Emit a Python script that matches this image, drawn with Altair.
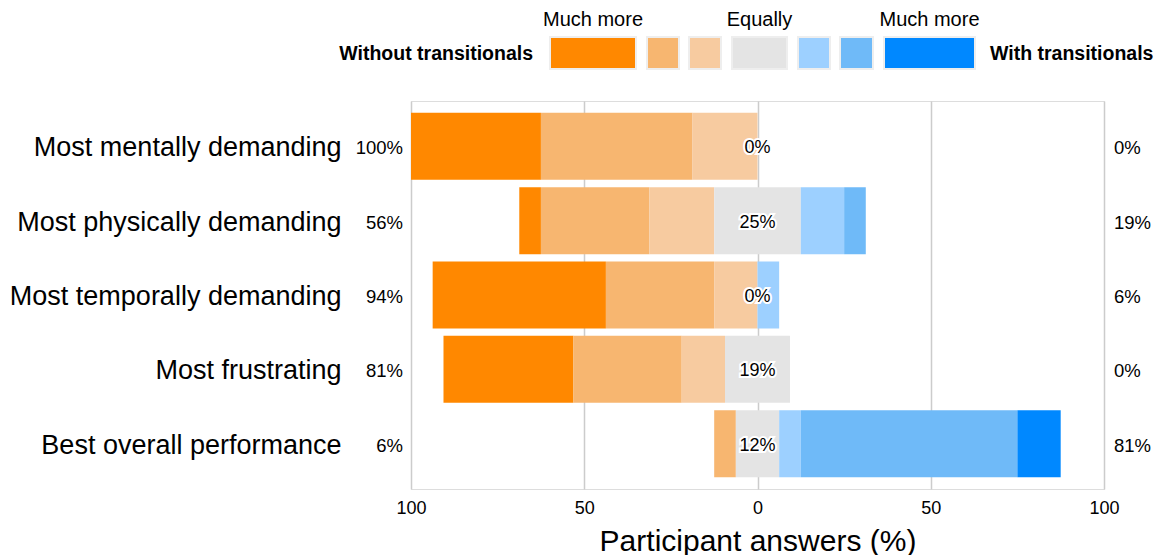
import altair as alt
import pandas as pd

# ---- data -----------------------------------------------------------------
categories = [
    "Most mentally demanding",
    "Most physically demanding",
    "Most temporally demanding",
    "Most frustrating",
    "Best overall performance",
]
levels = [
    "Much more without",
    "More without",
    "Somewhat more without",
    "Equally",
    "Somewhat more with",
    "More with",
    "Much more with",
]
colors = ["#FF8800", "#F7B670", "#F7CBA0", "#E4E4E4", "#9DD0FF", "#6FBAF8", "#0088FF"]

# percentage of participants per answer level (7-point scale)
mentally = [37.5, 43.75, 18.75, 0, 0, 0, 0]
physically = [6.25, 31.25, 18.75, 25, 12.5, 6.25, 0]
temporally = [50, 31.25, 12.5, 0, 6.25, 0, 0]
frustrating = [37.5, 31.25, 12.5, 18.75, 0, 0, 0]
best = [0, 6.25, 0, 12.5, 6.25, 62.5, 12.5]
series = [mentally, physically, temporally, frustrating, best]

tick_values = [-100, -50, 0, 50, 100]
legend_top_labels = ["Much more", "", "", "Equally", "", "", "Much more"]
legend_left_text = "Without transitionals"
legend_right_text = "With transitionals"
x_title = "Participant answers (%)"

# ---- tables built from the arrays ----------------------------------------
rows, summary = [], []
for cat, vals in zip(categories, series):
    left = sum(vals[:3])
    neutral = vals[3]
    right = sum(vals[4:])
    pos = -left - neutral / 2
    for lev, v in zip(levels, vals):
        rows.append({"category": cat, "level": lev, "start": pos, "end": pos + v})
        pos += v
    summary.append({
        "category": cat,
        "left": f"{round(left)}%",
        "neutral": f"{round(neutral)}%",
        "right": f"{round(right)}%",
        "zero": 0,
    })
df = pd.DataFrame(rows)
sdf = pd.DataFrame(summary)

# legend swatch geometry (pixels relative to plot area)
sw_widths = [86, 32, 32, 55, 32, 33, 91]
sw_gaps = [11, 10, 11, 11, 10, 11]
leg_rows, x = [], 139
for i, (lev, w) in enumerate(zip(levels, sw_widths)):
    leg_rows.append({"level": lev, "x0": x, "x1": x + w, "xc": x + w / 2,
                     "top": legend_top_labels[i]})
    if i < len(sw_gaps):
        x += w + sw_gaps[i]
ldf = pd.DataFrame(leg_rows)

FONT = "Liberation Sans"
INK = "#000000"
color_scale = alt.Scale(domain=levels, range=colors)
y_enc = alt.Y(
    "category:N",
    sort=categories,
    scale=alt.Scale(paddingInner=0.1, paddingOuter=0.16),
    axis=alt.Axis(
        title=None, domain=False, ticks=False, labelFontSize=27,
        labelPadding=70, labelFont=FONT, labelColor=INK, grid=False,
        labelLimit=500, labelBaseline="middle", labelOffset=2,
    ),
)
x_scale = alt.Scale(domain=[-100, 100], nice=False, zero=False)
x_axis = alt.Axis(
    values=tick_values, labelExpr="abs(datum.value)", title=x_title,
    titleFontSize=30, titleFontWeight="normal", titleFont=FONT,
    titleColor=INK, titlePadding=9,
    labelFontSize=18, labelFont=FONT, labelColor=INK, labelPadding=10,
    labelFlush=False,
    ticks=False, domain=False, grid=True, gridColor="#cccccc", gridWidth=1.5,
)

bars = alt.Chart(df).mark_bar(size=67).encode(
    x=alt.X("start:Q", scale=x_scale, axis=x_axis),
    x2="end:Q",
    y=y_enc,
    color=alt.Color("level:N", scale=color_scale, legend=None),
)

center_halo = alt.Chart(sdf).mark_text(
    fontSize=18, font=FONT, stroke="white", strokeWidth=4, fill="white",
    align="center", baseline="middle", dy=2,
).encode(x=alt.X("zero:Q", scale=x_scale), y=alt.Y("category:N", sort=categories), text="neutral:N")
center_text = alt.Chart(sdf).mark_text(
    fontSize=18, font=FONT, color=INK, align="center", baseline="middle", dy=2,
).encode(x=alt.X("zero:Q", scale=x_scale), y=alt.Y("category:N", sort=categories), text="neutral:N")

left_text = alt.Chart(sdf).mark_text(
    fontSize=18.5, font=FONT, color=INK, align="right", baseline="middle", dy=2,
).encode(x=alt.value(-8), y=alt.Y("category:N", sort=categories), text="left:N")
right_text = alt.Chart(sdf).mark_text(
    fontSize=18.5, font=FONT, color=INK, align="left", baseline="middle", dy=2,
).encode(x=alt.value(703), y=alt.Y("category:N", sort=categories), text="right:N")

main = alt.layer(bars, center_halo, center_text, left_text, right_text)

leg_rects = alt.Chart(ldf).mark_rect(stroke="#eeeeee", strokeWidth=2).encode(
    x=alt.X("x0:Q", scale=None, axis=None),
    x2="x1:Q",
    y=alt.value(-64),
    y2=alt.value(-32),
    color=alt.Color("level:N", scale=color_scale, legend=None),
)
leg_top = alt.Chart(ldf).mark_text(
    fontSize=20, font=FONT, color=INK, align="center", baseline="middle",
).encode(x=alt.X("xc:Q", scale=None, axis=None), y=alt.value(-81), text="top:N")
side_df = pd.DataFrame({
    "t": [legend_left_text, legend_right_text],
    "xx": [122, 579],
    "al": ["right", "left"],
})
leg_side_l = alt.Chart(side_df).transform_filter("datum.al == 'right'").mark_text(
    fontSize=19.5, font=FONT, fontWeight="bold", color=INK, baseline="middle", align="right",
).encode(x=alt.X("xx:Q", scale=None, axis=None), y=alt.value(-47), text="t:N")
leg_side_r = alt.Chart(side_df).transform_filter("datum.al == 'left'").mark_text(
    fontSize=19.5, font=FONT, fontWeight="bold", color=INK, baseline="middle", align="left",
).encode(x=alt.X("xx:Q", scale=None, axis=None), y=alt.value(-47), text="t:N")

legend = alt.layer(leg_rects, leg_top, leg_side_l, leg_side_r)

chart = alt.layer(main, legend).resolve_scale(x="independent").properties(
    width=693,
    height=388,
    autosize=alt.AutoSizeParams(type="none"),
    padding={"left": 403, "top": 93, "right": 50, "bottom": 66},
).configure_view(stroke="#cccccc", strokeWidth=2).configure(background="white")

chart.save("out.html", embed_options={"renderer": "svg", "actions": False})
